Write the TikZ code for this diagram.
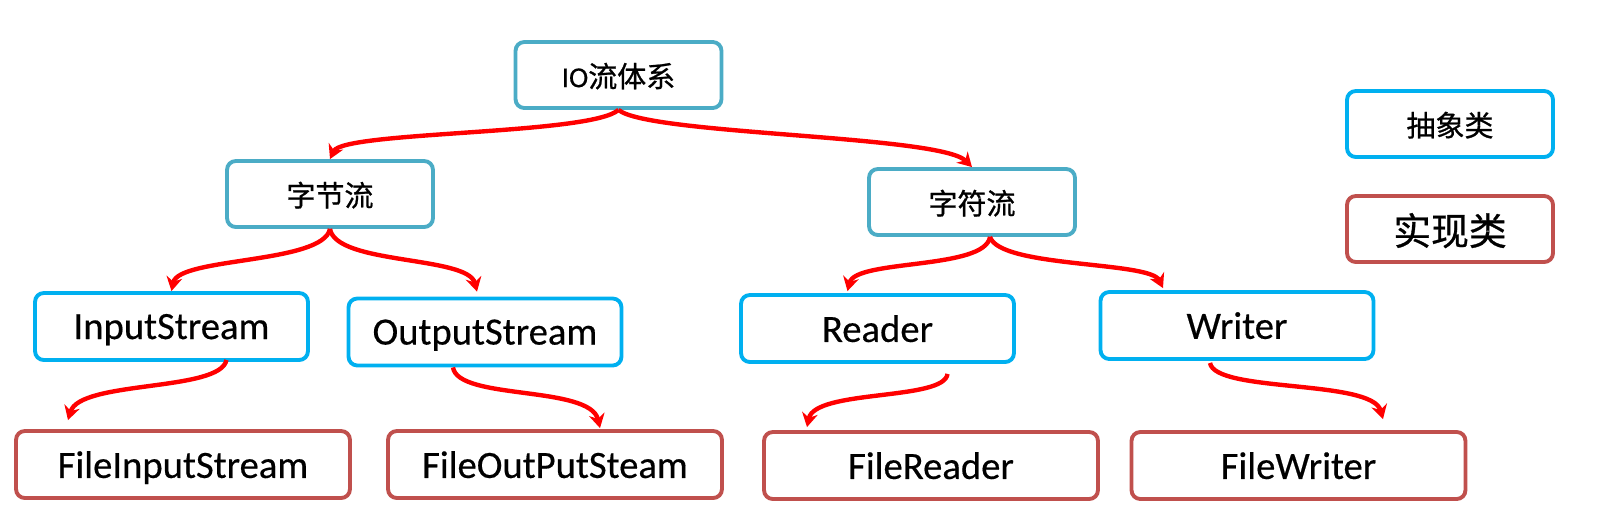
\documentclass[tikz,border=0pt]{standalone}
\usepackage{fontspec}
\setmainfont{Carlito}[FakeBold=0.4]
\newfontfamily\cjk{Noto Sans CJK SC}[FakeBold=0.8]
\usetikzlibrary{arrows.meta, calc}
\definecolor{sysblue}{HTML}{4BACC6}
\definecolor{absblue}{HTML}{00B0F0}
\definecolor{implred}{HTML}{C0504D}
\definecolor{linkred}{HTML}{FF0000}

\begin{document}
\begin{tikzpicture}[x=0.02cm, y=-0.02cm,
  every node/.style={draw, rounded corners=5pt, line width=2.2pt, fill=white, inner sep=0pt,
    text depth=0pt, font=\fontsize{22}{26}\selectfont},
  sys/.style={draw=sysblue, minimum width=4.12cm, minimum height=1.32cm,
    font=\fontsize{16.5}{20}\selectfont\cjk},
  abs/.style={draw=absblue, minimum width=5.46cm, minimum height=1.34cm},
  impl/.style={draw=implred, minimum width=6.68cm, minimum height=1.34cm},
  link/.style={draw=linkred, line width=2.5pt, -{Stealth[length=8pt, width=9pt]}}]
                \useasboundingbox (0,0) rectangle (1597,521);
                \node[sys] (io) at (618.5,75) {{\rmfamily IO}流体系};
                \node[sys] (byte) at (330,194) {字节流};
                \node[sys] (char) at (972,202) {字符流};
                \node[abs] (in) at (171.5,326.5) {InputStream};
                \node[abs] (out) at (485,332) {OutputStream};
                \node[abs] (reader) at (877.5,328.5) {Reader};
                \node[abs] (writer) at (1237,325.5) {Writer};
                \node[impl] (fin) at (183,464.5) {FileInputStream};
                \node[impl] (fout) at (555,464.5) {FileOutPutSteam};
                \node[impl] (fread) at (931,465.5) {FileReader};
                \node[impl] (fwrite) at (1298.5,465.5) {FileWriter};
                % legend
                \node[abs, minimum width=4.12cm, minimum height=1.32cm, font=\fontsize{16.5}{20}\selectfont\cjk] (abskey) at (1450,124) {抽象类};
                \node[impl, minimum width=4.12cm, minimum height=1.32cm, font=\fontsize{21.5}{26}\selectfont\cjk] (implkey) at (1450,229) {实现类};
                \draw[link] (io.south) .. controls +(-28,25) and +(13,-28) .. (byte.north);
                \draw[link] (io.south) .. controls +(30,25) and +(-32,-32) .. (char.north);
                \draw[link] (byte.south) .. controls +(-7,35) and +(7,-34) .. (in.north);
                \draw[link] (byte.south) .. controls +(6,36) and +(-9,-36) .. ($(out.north)+(-8,-5)$);
                \draw[link] ($(char.south)+(18,0)$) .. controls +(-5,33) and +(8,-32) .. ($(reader.north)+(-30,-2)$);
                \draw[link] ($(char.south)+(18,0)$) .. controls +(10,31) and +(-13,-27) .. ($(writer.north)+(-74,-2)$);
                \draw[link] ($(in.south)+(55,-2)$) .. controls +(-6,32) and +(12,-40) .. ($(fin.north)+(-115,-9)$);
                \draw[link] ($(out.south)+(-32,0)$) .. controls +(5,33) and +(-10,-43) .. ($(fout.north)+(45,-1)$);
                \draw[link] ($(reader.south)+(70,10)$) .. controls +(-3,27) and +(8,-38) .. ($(fread.north)+(-124,-3)$);
                \draw[link] ($(writer.south)+(-27,2)$) .. controls +(5,30) and +(-11,-40) .. ($(fwrite.north)+(84.5,-11)$);
                \end{tikzpicture}
\end{document}
